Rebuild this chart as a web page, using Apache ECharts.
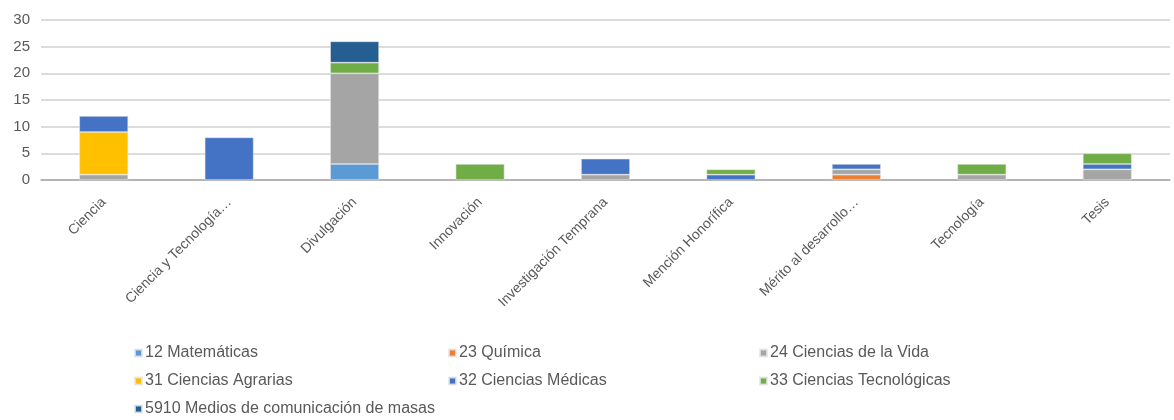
<!DOCTYPE html>
<html>
<head>
<meta charset="utf-8">
<script src="https://cdn.jsdelivr.net/npm/echarts@6/dist/echarts.min.js"></script>
<style>html,body{margin:0;padding:0;background:#fff}#c{width:1174px;height:420px}</style>
</head>
<body>
<div id="c"></div>
<script>
const categories = ["Ciencia","Ciencia y Tecnología…","Divulgación","Innovación","Investigación Temprana","Mención Honorífica","Mérito al desarrollo…","Tecnología","Tesis"];
const yTicks = [0,5,10,15,20,25,30];
const seriesNames = ["12 Matemáticas","23 Química","24 Ciencias de la Vida","31 Ciencias Agrarias","32 Ciencias Médicas","33 Ciencias Tecnológicas","5910 Medios de comunicación de masas"];
const matematicas   = [0,0,3,0,0,0,0,0,0];
const quimica       = [0,0,0,0,0,0,1,0,0];
const vida          = [1,0,17,0,1,0,1,1,2];
const agrarias      = [8,0,0,0,0,0,0,0,0];
const medicas       = [3,8,0,0,3,1,1,0,1];
const tecnologicas  = [0,0,2,3,0,1,0,2,2];
const medios        = [0,0,4,0,0,0,0,0,0];
const colors = ["#5B9BD5","#ED7D31","#A5A5A5","#FFC000","#4472C4","#70AD47","#255E91"];
const values = [matematicas,quimica,vida,agrarias,medicas,tecnologicas,medios];

const chart = echarts.init(document.getElementById('c'));
const txt = {color:'#595959', fontFamily:'Liberation Sans, Arial, sans-serif', fontSize:15};
// legend grid: 3 columns x 3 rows (row-major order)
const colX = [134, 448, 759];
const rowY = [353, 381, 409];
const legends = seriesNames.map((n,i)=>({
  left: colX[i%3], top: rowY[Math.floor(i/3)] - 8,
  itemWidth:7, itemHeight:7, icon:'rect', padding:0,
  data:[n], textStyle:Object.assign({}, txt, {fontSize:16, padding:[0,0,0,-2]})
}));
chart.setOption({
  animation:false,
  color:colors,
  grid:{left:41, right:4, top:20, bottom:240},
  xAxis:{type:'category', data:categories,
    axisLine:{lineStyle:{color:'#A6A6A6', width:1.5}},
    axisTick:{show:false},
    axisLabel:Object.assign({}, txt, {fontSize:14, rotate:45, interval:0, margin:20})},
  yAxis:{type:'value', min:yTicks[0], max:yTicks[yTicks.length-1], interval:5,
    axisLine:{show:false}, axisTick:{show:false},
    axisLabel:Object.assign({}, txt, {margin:11}),
    splitLine:{lineStyle:{color:'#D0D0D0', width:1.5}}},
  legend:legends,
  series:seriesNames.map((n,i)=>({
    name:n, type:'bar', stack:'total', barWidth:'39%',
    data:values[i].map(v=>v===0?null:v),
    itemStyle:{color:colors[i], borderColor:'rgba(230,230,230,0.8)', borderWidth:0.7}
  }))
});
</script>
</body>
</html>
